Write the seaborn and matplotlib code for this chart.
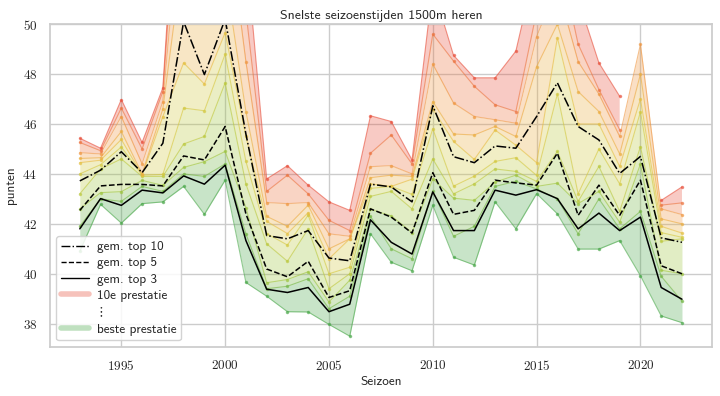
import numpy as np
import pandas as pd
import matplotlib
matplotlib.use("Agg")
import matplotlib.pyplot as plt
from matplotlib.lines import Line2D
import seaborn as sns

nan = np.nan
years = list(range(1993, 2023))

rank1 = [40.9, 42.78, 42.03, 42.81, 42.88, 43.5, 42.38, 43.75, 39.65, 39.1, 38.48, 38.47, 37.97, 37.5, 41.6,
         40.46, 40.12, 42.74, 40.66, 40.35, 42.88, 41.8, 43.21, 42.4, 40.99, 40.99, 41.33, 39.92, 38.31, 38.04]
rank2 = [41.9, 43.0, 42.9, 43.5, 43.3, 44.0, 43.9, 44.4, 41.6, 39.4, 39.5, 39.8, 38.6, 39.1, 42.3,
         41.0, 40.6, 43.3, 41.5, 41.9, 43.5, 43.7, 43.4, 43.0, 41.6, 43.0, 41.8, 42.5, 39.9, 38.9]
rank3 = [42.6, 43.25, 43.29, 43.74, 43.54, 44.26, 44.49, 44.9, 42.65, 39.64, 39.77, 40.08, 38.87, 39.74, 42.58,
         42.32, 41.65, 43.8, 43.03, 42.94, 43.67, 43.95, 43.5, 43.63, 42.81, 43.3, 42.06, 44.4, 40.14, 40.0]
rank4 = [43.2, 44.2, 44.6, 43.9, 43.9, 45.2, 45.5, 47.65, 43.6, 41.2, 40.5, 41.8, 39.4, 40.0, 43.1,
         43.3, 42.6, 44.6, 43.2, 43.6, 44.2, 44.1, 43.7, 44.9, 42.9, 44.3, 42.5, 45.09, 41.3, 41.4]
rank5 = [44.0, 44.37, 45.08, 43.95, 43.98, 46.64, 46.53, 48.8, 44.5, 41.61, 41.15, 42.35, 40.0, 40.26, 43.42,
         43.5, 43.18, 45.81, 43.51, 43.91, 44.5, 44.65, 43.94, 47.2, 43.2, 45.0, 43.6, 46.49, 41.65, 41.46]
rank6 = [44.45, 44.55, 45.38, 43.96, 46.3, 48.45, 47.6, 49.66, 45.5, 42.1, 41.61, 42.45, 40.6, 41.4, 43.6,
         43.5, 43.79, 46.6, 45.3, 44.58, 45.76, 45.15, 44.45, 49.46, 46.0, 46.0, 44.3, 47.0, 41.9, 41.63]
rank7 = [44.62, 44.65, 45.7, 44.0, 46.6, 53.0, 50.5, 52.0, 46.5, 42.3, 41.9, 42.75, 41.0, 41.4, 43.85,
         43.95, 43.9, 46.9, 45.6, 45.56, 45.9, 45.5, 48.3, 50.0, 47.3, 46.5, 44.8, 48.0, 42.2, 42.0]
rank8 = [44.85, 44.8, 46.3, 44.4, 46.9, 56.0, 52.0, 55.0, 48.5, 42.85, 42.81, 42.85, 41.6, 41.5, 44.29,
         44.33, 44.0, 48.4, 46.84, 46.3, 46.17, 46.03, 49.5, 51.5, 48.5, 47.2, 45.5, 49.19, 42.6, 42.37]
rank9 = [45.26, 44.93, 46.64, 45.0, 47.3, 59.0, 53.0, 57.0, 50.5, 43.3, 43.95, 43.2, 42.14, 41.73, 44.83,
         45.56, 44.4, 49.6, 48.52, 47.51, 46.77, 46.5, 50.5, 53.0, 49.2, 47.38, 45.77, nan, 42.75, 42.84]
rank10 = [45.43, 45.03, 46.98, 45.26, 47.45, 60.4, 53.9, 58.8, 53.0, 43.8, 44.33, 43.55, 42.88, 42.54, 46.33,
          46.1, 44.56, 51.5, 48.75, 47.85, 47.85, 48.92, 52.5, 54.0, 51.0, 48.45, 47.11, nan, 42.94, 43.48]

top10 = [43.72, 44.15, 44.89, 44.05, 45.23, 50.1, 47.98, 50.2, 45.6, 41.53, 41.4, 41.73, 40.63, 40.52, 43.59,
         43.48, 42.88, 46.73, 44.69, 44.45, 45.12, 45.03, 46.3, 47.65, 45.9, 45.36, 44.02, 44.7, 41.44, 41.26]
top5 = [42.54, 43.52, 43.58, 43.58, 43.52, 44.72, 44.56, 45.9, 42.4, 40.19, 39.88, 40.5, 39.05, 39.32, 42.6,
        42.27, 41.63, 44.05, 42.38, 42.54, 43.75, 43.64, 43.55, 44.83, 42.34, 43.55, 42.34, 43.75, 40.32, 40.0]
top3 = [41.8, 43.01, 42.74, 43.35, 43.24, 43.92, 43.59, 44.35, 41.33, 39.38, 39.25, 39.45, 38.48, 38.78, 42.16,
        41.26, 40.79, 43.28, 41.73, 41.73, 43.35, 43.15, 43.37, 43.01, 41.8, 42.43, 41.73, 42.27, 39.45, 38.98]

title = "Snelste seizoenstijden 1500m heren"
xlabel = "Seizoen"
ylabel = "punten"
legend_labels = ["gem. top 10", "gem. top 5", "gem. top 3", "10e prestatie", r"$\vdots$", "beste prestatie"]

sns.set_theme(style="whitegrid")
plt.rcParams['font.family'] = ['cmss10', 'DejaVu Sans']
plt.rcParams['mathtext.fontset'] = 'cm'
plt.rcParams['axes.unicode_minus'] = False
plt.rcParams['axes.formatter.use_mathtext'] = True

fig = plt.figure(figsize=(7.2, 3.96), dpi=100)
ax = fig.add_axes([0.069, 0.124, 0.92, 0.815])

ranks = [rank1, rank2, rank3, rank4, rank5, rank6, rank7, rank8, rank9, rank10]
colors = sns.blend_palette(["#4aa84a", "#a8c83c", "#e0c840", "#f0a040", "#e8503c"], 10)

for i in range(9):
    ax.fill_between(years, ranks[i], ranks[i + 1], color=colors[i + (1 if i >= 5 else 0)], alpha=0.3, lw=0)
for i in range(10):
    ax.plot(years, ranks[i], color=colors[i], lw=0.8, alpha=0.6, marker='o', markersize=1.5)

df = pd.DataFrame({"jaar": years, "top10": top10, "top5": top5, "top3": top3})
sns.lineplot(data=df, x="jaar", y="top10", color="black", lw=1.1, ls="-.", ax=ax)
sns.lineplot(data=df, x="jaar", y="top5", color="black", lw=1.1, ls="--", ax=ax)
sns.lineplot(data=df, x="jaar", y="top3", color="black", lw=1.1, ls="-", ax=ax)

ax.set_ylim(37.07, 50)
ax.set_xlim(1991.55, 2023.45)
ax.set_yticks([38, 40, 42, 44, 46, 48, 50])
ax.set_xticks([1995, 2000, 2005, 2010, 2015, 2020])
ax.tick_params(labelsize=9.5, pad=3)
for lbl in ax.get_xticklabels() + ax.get_yticklabels():
    lbl.set_fontfamily('cmr10')

ax.set_title(title, fontsize=9.9, pad=4)
ax.set_xlabel(xlabel, fontsize=9.5, labelpad=2)
ax.set_ylabel(ylabel, fontsize=9.5, labelpad=4)

handles = [
    Line2D([], [], color="black", lw=1.0, ls="-."),
    Line2D([], [], color="black", lw=1.0, ls="--"),
    Line2D([], [], color="black", lw=1.0, ls="-"),
    Line2D([], [], color=colors[9], lw=4, alpha=0.35),
    Line2D([], [], color="none"),
    Line2D([], [], color=colors[0], lw=4, alpha=0.35),
]
ax.legend(handles, legend_labels, loc="lower left", fontsize=9.5, framealpha=0.85,
          handlelength=2.1, handletextpad=0.6, labelspacing=0.3, borderpad=0.35)

fig.savefig("out.png", dpi=100)
